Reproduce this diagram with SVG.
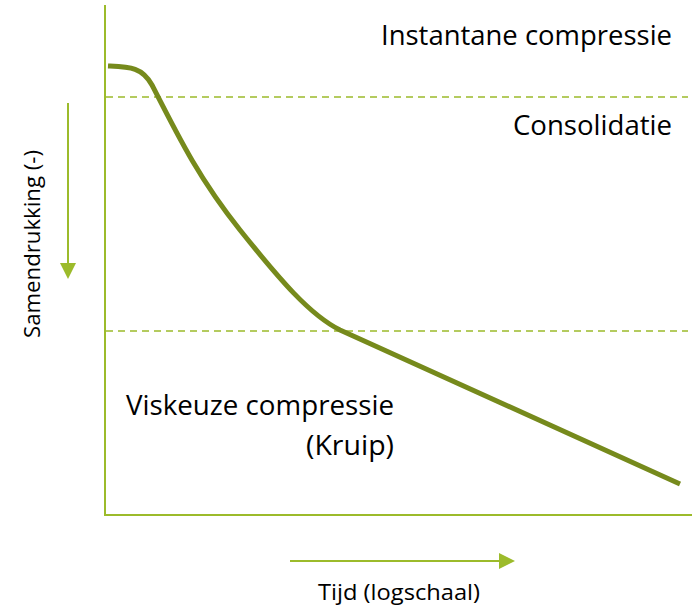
<svg xmlns="http://www.w3.org/2000/svg" width="693" height="608" viewBox="0 0 693 608">
<style>
.axis{stroke:#9CBB2B;stroke-width:2;fill:none}
.dash{stroke:#9CBB2B;stroke-width:1.5;stroke-dasharray:7 5;fill:none}
.curve{stroke:#768A1C;stroke-width:5;fill:none}
.lbl{font-family:"Open Sans","Liberation Sans",sans-serif;fill:#000}
</style>
<defs>
<marker id="ah2" markerWidth="16" markerHeight="16" refX="14" refY="8" orient="auto" markerUnits="userSpaceOnUse">
<path d="M0,0 L16,8 L0,16 Z" fill="#9CBB2B"/>
</marker>
</defs>
<g id="connectors">
<path class="axis" d="M105,5 V515 H692"/>
<path class="dash" d="M106,97 H688"/>
<path class="dash" d="M106,331 H688"/>
<path class="axis" d="M68,103 V277" marker-end="url(#ah2)"/>
<path class="axis" d="M290,561 H513" marker-end="url(#ah2)"/>
<path id="curve" class="curve" d="M108,66 C130,67 142,67 152,85 C180,140 200,180 240,230 C280,280 310,315 340,330 L680,484"/>
</g>
<g id="labels">
<text class="lbl" x="672" y="45" font-size="28" text-anchor="end" textLength="291" lengthAdjust="spacingAndGlyphs">Instantane compressie</text>
<text class="lbl" x="672" y="135" font-size="28" text-anchor="end" textLength="159" lengthAdjust="spacingAndGlyphs">Consolidatie</text>
<text class="lbl" x="126" y="415" font-size="28" textLength="268" lengthAdjust="spacingAndGlyphs">Viskeuze compressie</text>
<text class="lbl" x="394" y="455" font-size="28" text-anchor="end" textLength="88" lengthAdjust="spacingAndGlyphs">(Kruip)</text>
<text class="lbl" x="318" y="600" font-size="21" textLength="162" lengthAdjust="spacingAndGlyphs">Tijd (logschaal)</text>
<text class="lbl" transform="translate(40,338) rotate(-90)" font-size="21" textLength="188" lengthAdjust="spacingAndGlyphs">Samendrukking (-)</text>
</g>
</svg>
